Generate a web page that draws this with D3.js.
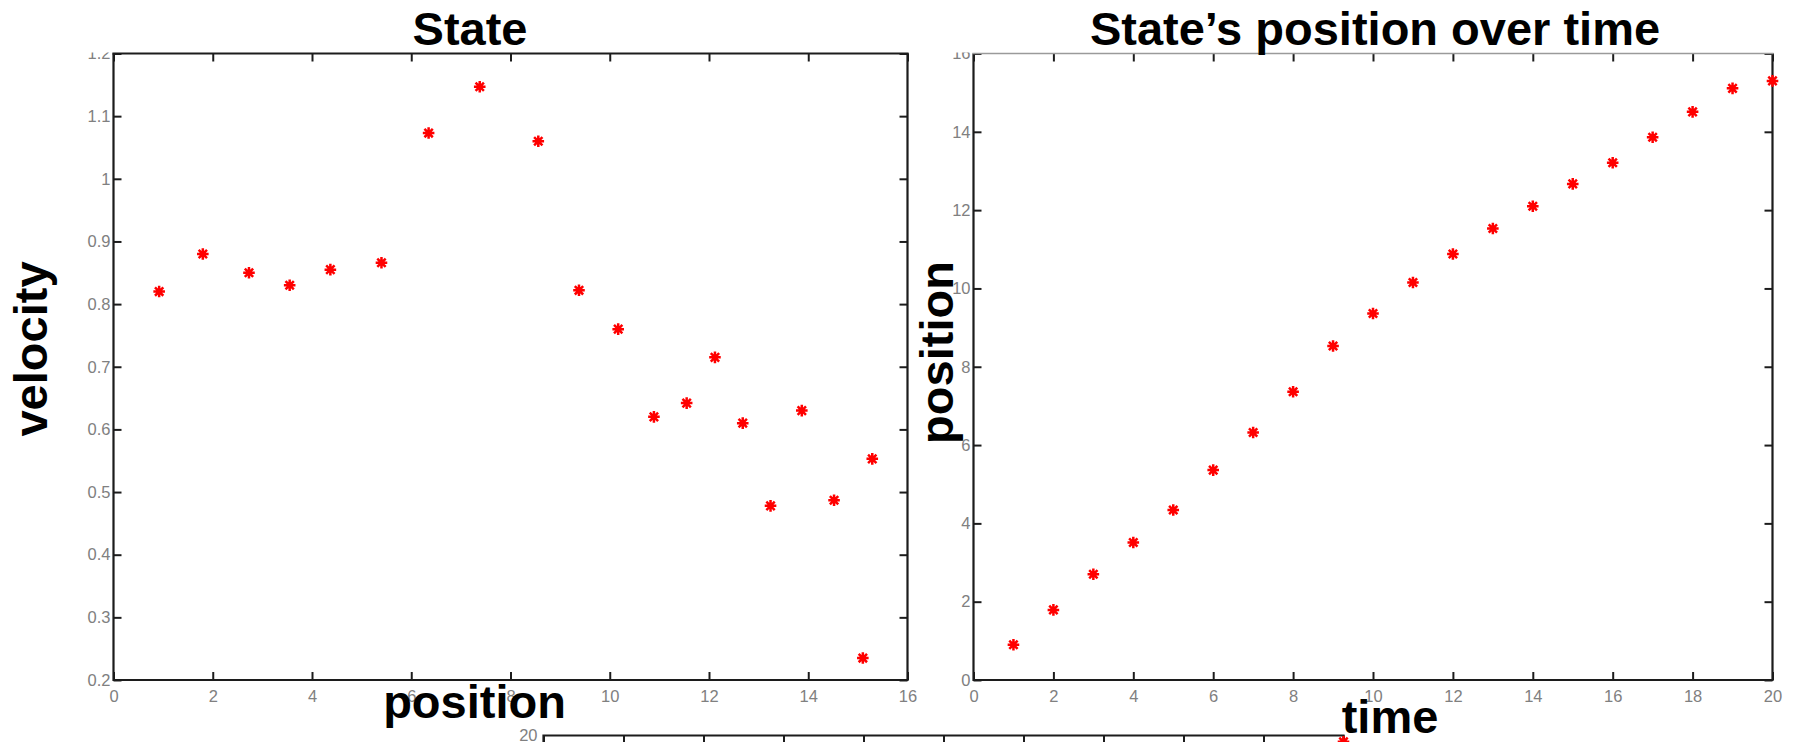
<!DOCTYPE html>
<html><head><meta charset="utf-8">
<script src="https://cdn.jsdelivr.net/npm/d3@7"></script>
<style>body{margin:0;background:#fff}svg{display:block}</style>
</head><body>
<svg id="chart" width="1797" height="742"></svg>
<script>
// ---- data ----
const statePosition = [0.92, 1.80, 2.73, 3.55, 4.37, 5.40, 6.35, 7.38, 8.56, 9.38, 10.17, 10.89, 11.55, 12.12, 12.68, 13.24, 13.87, 14.52, 15.10, 15.29];
const stateVelocity = [0.82, 0.88, 0.85, 0.83, 0.855, 0.866, 1.073, 1.147, 1.06, 0.822, 0.76, 0.62, 0.642, 0.715, 0.61, 0.478, 0.63, 0.487, 0.235, 0.553];
const timeSteps = [1, 2, 3, 4, 5, 6, 7, 8, 9, 10, 11, 12, 13, 14, 15, 16, 17, 18, 19, 20];
const positionOverTime = [0.90, 1.79, 2.70, 3.51, 4.34, 5.36, 6.32, 7.36, 8.53, 9.36, 10.15, 10.88, 11.53, 12.10, 12.67, 13.21, 13.86, 14.51, 15.11, 15.30];
const velocityTicks = [0.2, 0.3, 0.4, 0.5, 0.6, 0.7, 0.8, 0.9, 1, 1.1, 1.2];
const positionTicksLeft = [0, 2, 4, 6, 8, 10, 12, 14, 16];
const positionTicksRight = [0, 2, 4, 6, 8, 10, 12, 14, 16];
const timeTicks = [0, 2, 4, 6, 8, 10, 12, 14, 16, 18, 20];
const lowerTime = [20];
const lowerValue = [19.8];
const lowerTicks = [20];

const svg = d3.select("#chart");
const FONT = "'Liberation Sans', Arial, Helvetica, sans-serif";
const TICKCOL = "#808080";
const TICKSIZE = "16.5px";
const FRAME = "#1c1c1c";

function starPath(s) {
  const d = s * 0.72;
  return `M${-s},0L${s},0M0,${-s}L0,${s}M${-d},${-d}L${d},${d}M${-d},${d}L${d},${-d}`;
}

function panel(opts) {
  const g = svg.append("g").attr("transform", `translate(${opts.left},${opts.top})`);
  const w = opts.width, h = opts.height;
  const x = d3.scaleLinear().domain(opts.xDomain).range([0, w]);
  const y = d3.scaleLinear().domain(opts.yDomain).range([h, 0]);

  const fmt = d => String(d);
  const styleAxis = sel => {
    sel.select(".domain").remove();
    sel.selectAll(".tick line").attr("stroke", FRAME).attr("stroke-width", 2);
    sel.selectAll(".tick text").attr("fill", TICKCOL).style("font-family", FONT).style("font-size", TICKSIZE);
  };
  g.append("g").attr("transform", `translate(0,${h})`)
    .call(d3.axisBottom(x).tickValues(opts.xTicks).tickFormat(fmt).tickSizeInner(-8).tickSizeOuter(0).tickPadding(10))
    .call(styleAxis);
  g.append("g")
    .call(d3.axisLeft(y).tickValues(opts.yTicks).tickFormat(fmt).tickSizeInner(-8).tickSizeOuter(0).tickPadding(3))
    .call(styleAxis);
  g.append("g")
    .call(d3.axisTop(x).tickValues(opts.xTicks).tickFormat("").tickSizeInner(-8).tickSizeOuter(0))
    .call(styleAxis);
  g.append("g").attr("transform", `translate(${w},0)`)
    .call(d3.axisRight(y).tickValues(opts.yTicks).tickFormat("").tickSizeInner(-8).tickSizeOuter(0))
    .call(styleAxis);

  g.append("path")
    .attr("d", `M0,0L0,${h}L${w},${h}L${w},0`)
    .attr("fill", "none").attr("stroke", FRAME).attr("stroke-width", 2.2);

  g.selectAll("path.pt").data(opts.xs).enter().append("path")
    .attr("class", "pt")
    .attr("transform", (d, i) => `translate(${x(d)},${y(opts.ys[i])})`)
    .attr("d", starPath(5.8))
    .attr("stroke", "#ff0000").attr("stroke-width", 2.5).attr("fill", "none");
  return {g, x, y, w, h};
}

panel({
  left: 113.5, top: 53.5, width: 794, height: 626.5,
  xDomain: [0, 16], yDomain: [0.2, 1.2],
  xTicks: positionTicksLeft, yTicks: velocityTicks,
  xs: statePosition, ys: stateVelocity
});
panel({
  left: 973.5, top: 53.5, width: 799, height: 626.5,
  xDomain: [0, 20], yDomain: [0, 16],
  xTicks: timeTicks, yTicks: positionTicksRight,
  xs: timeSteps, ys: positionOverTime
});

// lower (third) panel, only its top edge visible
(function () {
  const g = svg.append("g").attr("transform", "translate(543.5,735.5)");
  const w = 800, h = 626.5;
  const x = d3.scaleLinear().domain([0, 20]).range([0, w]);
  const y = d3.scaleLinear().domain([0, 20]).range([h, 0]);
  g.append("g")
    .call(d3.axisTop(x).tickValues(timeTicks).tickFormat("").tickSizeInner(-8).tickSizeOuter(0))
    .call(sel => { sel.select(".domain").remove(); sel.selectAll(".tick line").attr("stroke", FRAME).attr("stroke-width", 2); });
  g.append("g")
    .call(d3.axisLeft(y).tickValues(lowerTicks).tickFormat(d => String(d)).tickSizeInner(0).tickSizeOuter(0).tickPadding(6))
    .call(sel => { sel.select(".domain").remove(); sel.selectAll(".tick text").attr("fill", TICKCOL).style("font-family", FONT).style("font-size", TICKSIZE); });
  g.append("path").attr("d", `M0,${h}L0,0L${w},0L${w},${h}`)
    .attr("fill", "none").attr("stroke", FRAME).attr("stroke-width", 2.2);
  g.selectAll("path.pt").data(lowerTime).enter().append("path")
    .attr("transform", (d, i) => `translate(${x(d)},${y(lowerValue[i])})`)
    .attr("d", starPath(5.8))
    .attr("stroke", "#ff0000").attr("stroke-width", 2.5).attr("fill", "none");
})();

// white band at the top (title area clips the top tick labels)
svg.append("rect").attr("x", 0).attr("y", 0).attr("width", 1797).attr("height", 52.5).attr("fill", "#fff");
svg.append("line").attr("x1", 112.4).attr("x2", 908.6).attr("y1", 53.5).attr("y2", 53.5)
  .attr("stroke", FRAME).attr("stroke-width", 2.2);
svg.append("line").attr("x1", 972.4).attr("x2", 1773.6).attr("y1", 53.5).attr("y2", 53.5)
  .attr("stroke", "#9a9a9a").attr("stroke-width", 1.5);

// titles and labels
const big = sel => sel.style("font-family", FONT).style("font-weight", "bold").style("font-size", "47px").attr("fill", "#000");
svg.append("text").attr("x", 470).attr("y", 45).attr("text-anchor", "middle").text("State").call(big);
svg.append("text").attr("x", 1375).attr("y", 45).attr("text-anchor", "middle").text("State\u2019s position over time").call(big);
svg.append("text").attr("transform", "translate(47,349) rotate(-90)").attr("text-anchor", "middle").text("velocity").call(big);
svg.append("text").attr("x", 474.5).attr("y", 718).attr("text-anchor", "middle").text("position").call(big);
svg.append("text").attr("transform", "translate(953,352.5) rotate(-90)").attr("text-anchor", "middle").text("position").call(big);
svg.append("text").attr("x", 1390).attr("y", 733).attr("text-anchor", "middle").text("time").call(big);
</script>
</body></html>
